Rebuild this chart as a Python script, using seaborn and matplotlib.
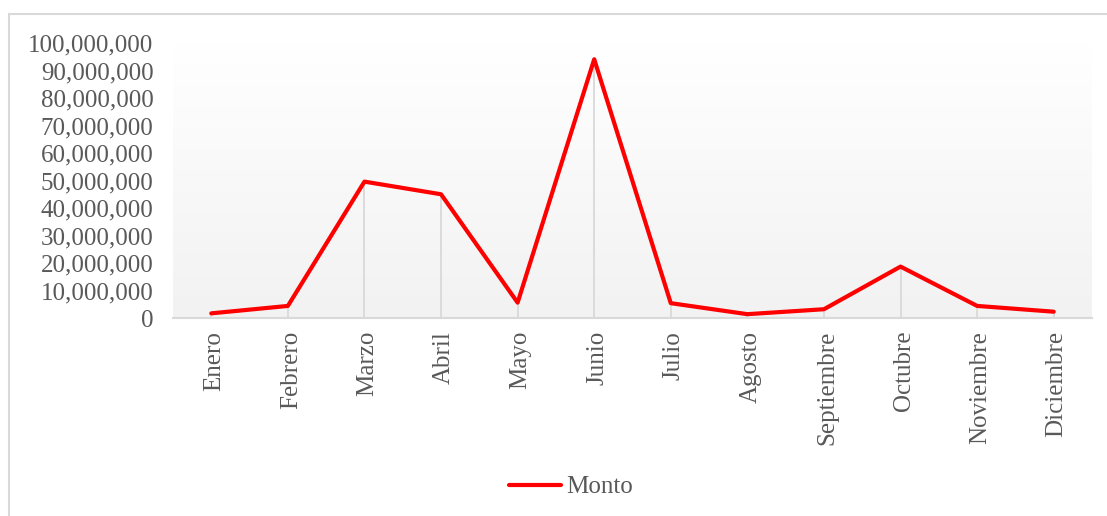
import numpy as np
import pandas as pd
import matplotlib
matplotlib.use("Agg")
import matplotlib.pyplot as plt
from matplotlib.patches import Rectangle
from matplotlib.ticker import FuncFormatter
from matplotlib.transforms import ScaledTranslation
from matplotlib.lines import Line2D
import seaborn as sns

meses = ["Enero", "Febrero", "Marzo", "Abril", "Mayo", "Junio", "Julio",
         "Agosto", "Septiembre", "Octubre", "Noviembre", "Diciembre"]
monto = [1.8e6, 4.5e6, 49.7e6, 45.1e6, 5.7e6, 94.2e6, 5.5e6,
         1.5e6, 3.3e6, 18.8e6, 4.5e6, 2.4e6]
y_ticks = [0, 10e6, 20e6, 30e6, 40e6, 50e6, 60e6, 70e6, 80e6, 90e6, 100e6]

df = pd.DataFrame({"Mes": meses, "Monto": monto})

sns.set_theme(style="white")
plt.rcParams['font.family'] = ['Liberation Serif', 'DejaVu Serif']

W, H = 1107, 516
fig = plt.figure(figsize=(W / 100, H / 100), dpi=100)
left, right = 173 / W, 1092 / W
bottom, top = 1 - 318.3 / H, 1 - 43.3 / H
ax = fig.add_axes([left, bottom, right - left, top - bottom])

# gradient background
grad = np.linspace(0, 1, 256).reshape(-1, 1)
ax.imshow(grad, extent=[0, 1, 0, 1], transform=ax.transAxes, aspect='auto',
          cmap=matplotlib.colors.LinearSegmentedColormap.from_list(
              "g", ["#f2f2f2", "#ffffff"]), origin='lower', zorder=0)
ax.set_facecolor("none")

x_idx = np.arange(len(meses))
ax.vlines(x_idx, 0, df["Monto"], color="#d9d9d9", lw=1.3, zorder=1)

sns.lineplot(data=df, x="Mes", y="Monto", ax=ax, sort=False, color="#ff0000",
             lw=3.0, label="Monto", zorder=3, legend=False)

ax.set_xlim(-0.5, len(meses) - 0.5)
ax.set_ylim(0, 100e6)
ax.set_yticks(y_ticks)
ax.yaxis.set_major_formatter(FuncFormatter(lambda v, p: f"{int(round(v)):,}"))
ax.set_xticks(x_idx)
ax.set_xticklabels(meses, rotation=90)
ax.tick_params(axis='y', length=0, pad=14, labelsize=18, labelcolor="#595959")
ax.tick_params(axis='x', length=0, pad=9, labelsize=18, labelcolor="#595959")
shift = ScaledTranslation(3 / 100, 0, fig.dpi_scale_trans)
for lab in ax.get_xticklabels():
    lab.set_verticalalignment('top')
    lab.set_transform(lab.get_transform() + shift)
ax.set_xlabel("")
ax.set_ylabel("")
for s in ["top", "right", "left"]:
    ax.spines[s].set_visible(False)
ax.spines["bottom"].set_color("#d9d9d9")
ax.spines["bottom"].set_linewidth(1.5)
ax.spines["bottom"].set_zorder(2)

# legend
h = Line2D([], [], color="#ff0000", lw=3.0)
fig.legend([h], ["Monto"], loc="center", bbox_to_anchor=(571 / W, 1 - 487 / H),
           frameon=False, fontsize=18, handlelength=2.1, handletextpad=0.2,
           labelcolor="#595959")

# outer chart border
fig.add_artist(Rectangle((9 / W, -0.1), 1.2, (H - 14) / H + 0.1,
                         transform=fig.transFigure, fill=False,
                         ec="#d9d9d9", lw=1.5))

fig.savefig("out.png", dpi=100, facecolor="white")
